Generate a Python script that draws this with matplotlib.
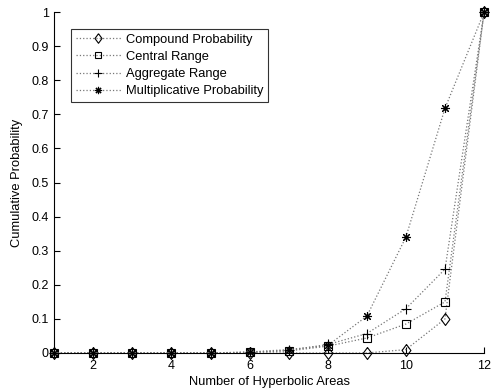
import matplotlib
matplotlib.use("Agg")
import matplotlib.pyplot as plt
import numpy as np

plt.rcParams["font.family"] = ["Liberation Sans", "DejaVu Sans"]

areas = np.arange(1, 13)
compound = [0, 0, 0, 0, 0, 0, 0.0, 0.0, 0.0, 0.01, 0.10, 1.0]
central = [0, 0, 0, 0, 0, 0.002, 0.006, 0.02, 0.044, 0.085, 0.15, 1.0]
aggregate = [0, 0, 0, 0, 0, 0.002, 0.008, 0.025, 0.057, 0.13, 0.246, 1.0]
multiplicative = [0, 0, 0, 0, 0, 0.003, 0.01, 0.022, 0.108, 0.34, 0.718, 1.0]

# MATLAB-style diamond: a bit taller than wide
diamond = [(0, 1), (0.74, 0), (0, -1), (-0.74, 0), (0, 1)]

series = [
    ("Compound Probability", compound, diamond, 8.6, "none"),
    ("Central Range", central, "s", 5.2, "none"),
    ("Aggregate Range", aggregate, "+", 7, "k"),
    ("Multiplicative Probability", multiplicative, (8, 2, 0), 6.5, "k"),
]

fig = plt.figure(figsize=(4.97, 3.92), dpi=100)
ax = fig.add_axes([0.109, 0.0995, 0.865, 0.8695])

for label, vals, mk, ms, fc in series:
    ax.plot(areas, vals, linestyle=":", color="#777777", lw=0.9,
            marker=mk, markersize=ms, markerfacecolor=fc,
            markeredgecolor="k", markeredgewidth=0.8, label=label,
            clip_on=False)

ax.set_xlim(1, 12)
ax.set_ylim(0, 1)
ax.set_xticks([2, 4, 6, 8, 10, 12])
ax.set_yticks(np.round(np.arange(0, 1.01, 0.1), 1))
ax.set_yticklabels(["0", "0.1", "0.2", "0.3", "0.4", "0.5", "0.6", "0.7", "0.8", "0.9", "1"])
ax.tick_params(direction="in", length=4, width=0.8, labelsize=9)
ax.tick_params(axis="x", pad=5)
ax.tick_params(axis="y", pad=4)
for side in ["top", "right"]:
    ax.spines[side].set_visible(False)
for side in ["left", "bottom"]:
    ax.spines[side].set_linewidth(0.8)
ax.set_xlabel("Number of Hyperbolic Areas", fontsize=9.3, labelpad=3)
ax.set_ylabel("Cumulative Probability", fontsize=9.3, labelpad=6)

leg = ax.legend(loc="upper left", bbox_to_anchor=(0.04, 0.95), fontsize=9.3,
                frameon=True, fancybox=False, edgecolor="k", handlelength=3.5,
                borderpad=0.35, borderaxespad=0, labelspacing=0.4,
                handletextpad=0.4, markerscale=0.8)
leg.get_frame().set_linewidth(0.8)

fig.savefig("out.png", dpi=100)
